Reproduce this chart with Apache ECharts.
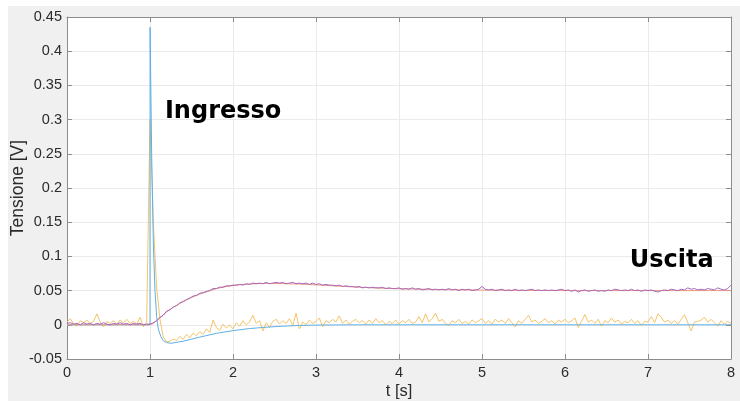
<!DOCTYPE html>
<html><head><meta charset="utf-8">
<script src="https://cdn.jsdelivr.net/npm/echarts@6/dist/echarts.min.js"></script>
<style>
html,body{margin:0;padding:0;background:#fff;}
#bg{position:absolute;left:8px;top:6px;width:732px;height:395px;background:#f0f0f0;}
#chart{position:absolute;left:0;top:0;width:740px;height:401px;}
</style></head>
<body><div id="bg"></div><div id="chart"></div>
<script>
// Sampling grid of measured signals (s)
const sampleStep = 0.04;
// Measured input (Ingresso), V
const orangeV = [0.004,0.009,0.001,-0.002,0.006,0.003,0.007,0.002,0.005,0.016,0.004,-0.003,0.005,0.002,0.006,0.001,0.007,0.003,0.008,0.002,0.005,0.001,0.011,-0.003,0.004,
0.300,0.150,0.055,0.008,-0.018,-0.025,-0.024,-0.021,-0.023,-0.017,-0.021,-0.014,-0.019,-0.012,-0.016,-0.010,-0.014,-0.006,-0.011,0.007,-0.004,-0.008,0.001,-0.005,0.000,
-0.006,0.003,-0.002,0.006,0.000,0.004,0.014,0.002,0.006,-0.009,0.003,-0.004,0.005,0.008,0.001,0.006,0.002,0.009,-0.001,0.017,-0.006,0.004,0.000,0.007,0.002,
0.005,0.010,-0.003,0.006,0.003,0.008,0.004,0.013,0.002,0.007,0.001,0.005,0.008,0.003,0.006,0.001,0.007,0.002,0.009,0.003,0.006,0.000,0.005,0.002,0.007,
0.001,0.006,0.003,0.008,0.002,0.004,0.012,0.003,0.016,0.004,0.009,0.017,0.005,0.008,0.002,-0.001,0.006,0.003,0.008,0.002,0.005,0.001,0.007,0.003,0.006,
0.009,0.002,0.006,0.001,0.008,0.004,0.007,0.002,0.009,0.003,-0.003,0.006,0.002,0.008,0.014,0.004,0.007,0.002,0.005,0.009,0.003,0.006,0.001,0.007,0.004,
0.008,0.003,0.006,0.010,-0.004,0.005,0.015,0.004,0.007,0.002,0.008,-0.002,0.006,0.003,0.010,0.004,0.007,0.001,0.005,0.003,0.008,0.002,0.006,-0.001,0.005,
0.004,0.012,0.003,0.016,0.011,0.004,0.007,0.002,0.006,0.001,0.008,0.015,0.003,-0.009,0.004,0.005,0.007,0.011,0.004,0.008,0.003,-0.002,0.006,0.001,0.005,0.002];
// Measured output (Uscita), V
const purpleV = [0.002,0.003,0.001,0.002,0.000,0.003,0.001,0.002,0.000,0.002,0.001,0.003,0.001,0.000,0.002,0.001,0.003,0.001,0.002,0.000,0.002,0.001,0.002,0.000,0.001,
0.001,0.003,0.006,0.011,0.014,0.020,0.022,0.026,0.028,0.032,0.034,0.037,0.039,0.042,0.043,0.046,0.047,0.049,0.050,0.053,0.053,0.055,0.055,0.057,0.057,
0.058,0.058,0.059,0.058,0.060,0.059,0.061,0.060,0.061,0.060,0.062,0.060,0.061,0.062,0.061,0.062,0.060,0.061,0.062,0.060,0.061,0.060,0.061,0.059,0.061,
0.059,0.060,0.058,0.059,0.058,0.058,0.057,0.058,0.056,0.057,0.056,0.056,0.055,0.056,0.054,0.055,0.054,0.055,0.054,0.054,0.055,0.053,0.054,0.053,0.053,
0.054,0.052,0.053,0.052,0.054,0.052,0.053,0.051,0.052,0.053,0.051,0.052,0.051,0.052,0.051,0.053,0.051,0.052,0.050,0.052,0.051,0.052,0.050,0.051,0.052,
0.056,0.052,0.051,0.052,0.050,0.051,0.052,0.050,0.051,0.050,0.052,0.050,0.051,0.050,0.051,0.052,0.050,0.051,0.050,0.051,0.050,0.051,0.050,0.051,0.052,
0.050,0.051,0.049,0.051,0.048,0.050,0.051,0.049,0.050,0.051,0.049,0.050,0.049,0.051,0.050,0.052,0.051,0.050,0.051,0.050,0.052,0.050,0.051,0.049,0.051,
0.050,0.051,0.049,0.048,0.050,0.051,0.050,0.052,0.051,0.050,0.052,0.051,0.054,0.052,0.053,0.051,0.052,0.051,0.053,0.052,0.051,0.054,0.052,0.051,0.053,0.058];
// Model input response
const blueT = [0,1.0,1.001,1.02,1.04,1.06,1.08,1.1,1.13,1.16,1.2,1.25,1.3,1.4,1.5,1.6,1.8,2.0,2.2,2.4,2.6,2.8,3.0,3.5,4,8];
const blueV = [0,0,0.435,0.25,0.12,0.05,0.012,-0.006,-0.017,-0.023,-0.026,-0.027,-0.026,-0.024,-0.021,-0.018,-0.0125,-0.0085,-0.0055,-0.0035,-0.002,-0.001,-0.0004,0,0,0];
// Model output response
const redT = [0,1.0,1.04,1.08,1.12,1.16,1.2,1.3,1.4,1.5,1.6,1.7,1.8,1.9,2.0,2.1,2.2,2.3,2.4,2.5,2.6,2.7,2.8,2.9,3.0,3.2,3.4,3.6,3.8,4.0,4.3,4.6,5.0,5.5,6.0,7.0,8.0];
const redV = [0,0,0.002,0.006,0.010,0.014,0.019,0.027,0.034,0.040,0.045,0.049,0.053,0.0555,0.0575,0.0588,0.0597,0.0602,0.0604,0.0604,0.0602,0.0599,0.0595,0.059,0.0584,0.057,0.0557,0.0545,0.0535,0.0527,0.052,0.0513,0.0507,0.0503,0.050,0.050,0.050];
// Axis ticks
const xTicks = {min:0, max:8, interval:1};
const yTicks = {min:-0.05, max:0.45, interval:0.05};
// Annotations
const notes = [{text:'Ingresso', t:1.18, v:0.312},{text:'Uscita', t:6.78, v:0.093}];

const pairs = (vals) => vals.map((v,i)=>[+(i*sampleStep).toFixed(2), v]);
const zip = (ts, vs) => ts.map((t,i)=>[t, vs[i]]);

const axisCol = '#8c8c8c';
const labelStyle = {color:'#2b2b2b', fontSize:14.5, fontFamily:'Liberation Sans, Arial, sans-serif'};
const chart = echarts.init(document.getElementById('chart'), null, {renderer:'canvas'});
function xAx(pos, main){
  return {type:'value', position:pos, min:xTicks.min, max:xTicks.max, interval:xTicks.interval,
    axisLine:{show:true, onZero:false, lineStyle:{color:axisCol, width:1}},
    axisTick:{show:true, inside:true, length:5, lineStyle:{color:axisCol}},
    axisLabel:{show:main, margin:6, ...labelStyle},
    splitLine:{show:main, lineStyle:{color:'#ebebeb', width:1}},
    name: main ? 't [s]' : '', nameLocation:'middle', nameGap:24, nameMoveOverlap:false,
    nameTextStyle:{color:'#2b2b2b', fontSize:16.5, fontFamily:'Liberation Sans, Arial, sans-serif'}};
}
function yAx(pos, main){
  return {type:'value', position:pos, min:yTicks.min, max:yTicks.max, interval:yTicks.interval,
    axisLine:{show:true, onZero:false, lineStyle:{color:axisCol, width:1}},
    axisTick:{show:true, inside:true, length:5, lineStyle:{color:axisCol}},
    axisLabel:{show:main, margin:5, ...labelStyle},
    splitLine:{show:main, lineStyle:{color:'#ebebeb', width:1}},
    name: main ? 'Tensione [V]' : '', nameLocation:'middle', nameGap:40, nameMoveOverlap:false,
    nameTextStyle:{color:'#2b2b2b', fontSize:17.5, fontFamily:'Liberation Sans, Arial, sans-serif'}};
}
const lineS = (name, data, color) => ({name, type:'line', data, xAxisIndex:0, yAxisIndex:0,
  showSymbol:false, symbol:'none', animation:false, lineStyle:{color, width:1}, itemStyle:{color}});
chart.setOption({
  animation:false,
  backgroundColor:'transparent',
  grid:{left:67, right:9, top:17, bottom:42, show:true, backgroundColor:'#ffffff', borderWidth:0, outerBoundsMode:'none', containLabel:false},
  xAxis:[xAx('bottom', true), xAx('top', false)],
  yAxis:[yAx('left', true), yAx('right', false)],
  series:[
    lineS('Ingresso misurato', pairs(orangeV), '#f5c469'),
    lineS('Ingresso modello', zip(blueT, blueV), '#5fb0e4'),
    lineS('Uscita modello', zip(redT, redV), '#ec9a7c'),
    lineS('Uscita misurata', pairs(purpleV), '#a967bd')
  ]
});
chart.setOption({graphic: notes.map(n => {
  const p = chart.convertToPixel({gridIndex:0}, [n.t, n.v]);
  return {type:'text', x:p[0], y:p[1], z:100,
    style:{text:n.text, fill:'#000', font:'bold 24px "DejaVu Sans", Verdana, sans-serif', verticalAlign:'middle', align:'left'}};
})});
</script></body></html>
